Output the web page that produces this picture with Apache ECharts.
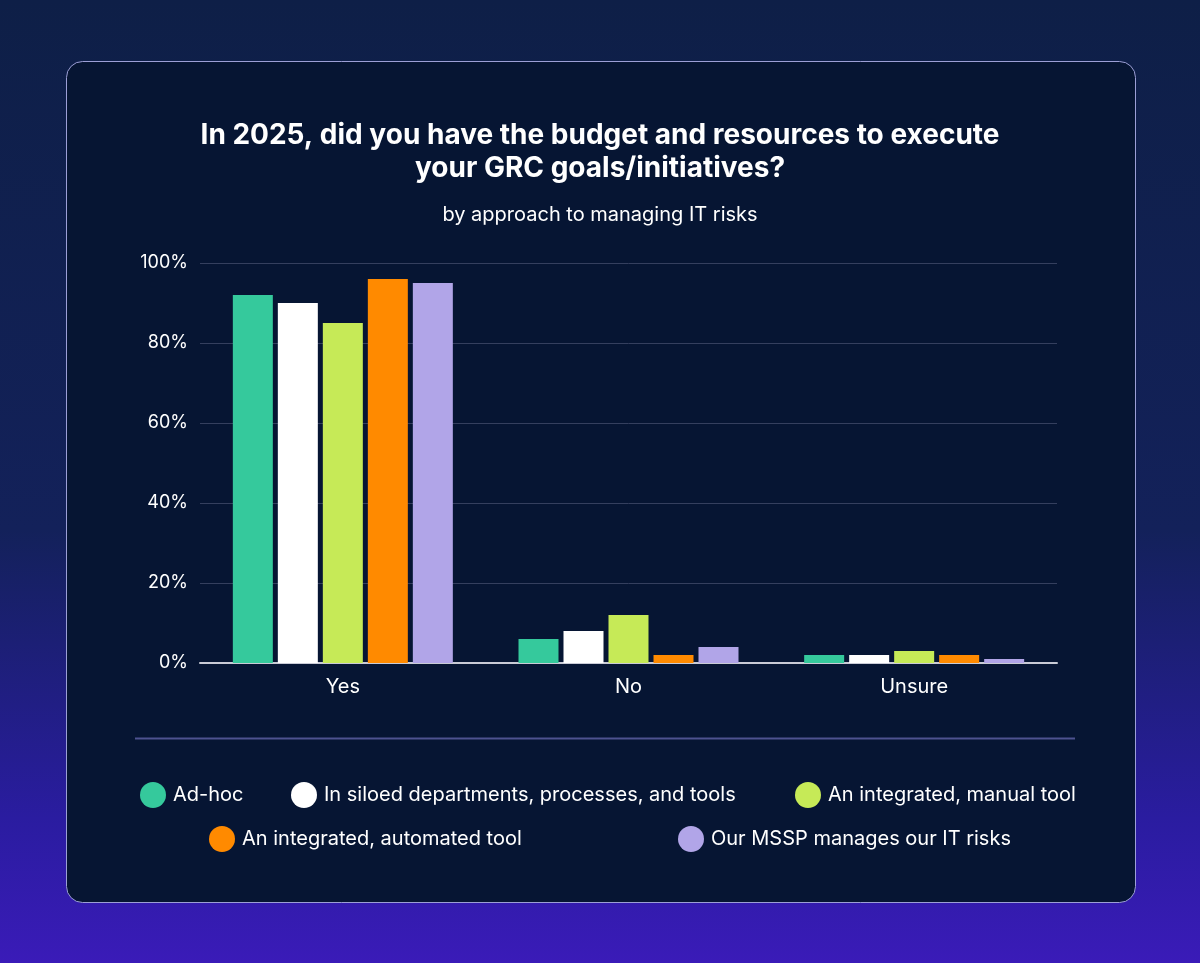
<!DOCTYPE html>
<html>
<head>
<meta charset="utf-8">
<script src="https://cdn.jsdelivr.net/npm/echarts@6/dist/echarts.min.js"></script>
<style>
  html, body { margin: 0; padding: 0; }
  body {
    width: 1200px; height: 963px; overflow: hidden;
    background: linear-gradient(180deg, #0e1f47 0%, #13215a 55%, #2a1ca0 85%, #3a1bb8 100%);
  }
  #chart { width: 1200px; height: 963px; }
</style>
</head>
<body>
<div id="chart"></div>
<script>
  // data, in percent
  var categories = ['Yes', 'No', 'Unsure'];
  var seriesNames = [
    'Ad-hoc',
    'In siloed departments, processes, and tools',
    'An integrated, manual tool',
    'An integrated, automated tool',
    'Our MSSP manages our IT risks'
  ];
  var adHoc = [92, 6, 2];
  var siloed = [90, 8, 2];
  var manualTool = [85, 12, 3];
  var automatedTool = [96, 2, 2];
  var mssp = [95, 4, 1];
  var yTicks = [0, 20, 40, 60, 80, 100];

  var colors = ['#35c99c', '#ffffff', '#c6ea57', '#ff8a00', '#b1a5e8'];
  var values = [adHoc, siloed, manualTool, automatedTool, mssp];
  var font = 'Inter, Lato, sans-serif';

  var chart = echarts.init(document.getElementById('chart'));

  var series = values.map(function (v, i) {
    return {
      name: seriesNames[i],
      type: 'bar',
      data: v,
      barWidth: 40,
      barGap: '12.5%',
      itemStyle: { color: colors[i] }
    };
  });

  // one legend per item so they sit where they do in the picture
  var legendPos = [
    { left: 135, top: 777 },
    { left: 286, top: 777 },
    { left: 790, top: 777 },
    { left: 204, top: 821 },
    { left: 673, top: 821 }
  ];
  var legends = seriesNames.map(function (n, i) {
    return {
      data: [n],
      left: legendPos[i].left,
      top: legendPos[i].top,
      icon: 'circle',
      itemWidth: 26,
      itemHeight: 26,
      itemGap: 0,
      selectedMode: false,
      textStyle: { color: '#ffffff', fontSize: 20, fontFamily: font, padding: [0, 0, 0, 2] }
    };
  });

  var option = {
    backgroundColor: 'transparent',
    animation: false,
    color: colors,
    graphic: [
      {
        type: 'rect',
        z: -10,
        shape: { x: 66.5, y: 61.5, width: 1069, height: 841, r: 16 },
        style: { fill: '#061533', stroke: '#9c9fd6', lineWidth: 1 }
      },
      {
        type: 'line',
        z: -5,
        shape: { x1: 135, y1: 738.5, x2: 1075, y2: 738.5 },
        style: { stroke: '#4d5290', lineWidth: 2 }
      }
    ],
    title: [
      {
        text: 'In 2025, did you have the budget and resources to execute\nyour GRC goals/initiatives?',
        left: 'center',
        top: 114,
        textStyle: { color: '#ffffff', fontSize: 28, fontWeight: 'bold', fontFamily: font, lineHeight: 33, align: 'center' }
      },
      {
        text: 'by approach to managing IT risks',
        left: 'center',
        top: 200,
        textStyle: { color: '#ffffff', fontSize: 20, fontWeight: 'normal', fontFamily: font }
      }
    ],
    legend: legends,
    grid: { left: 200, right: 143, top: 263, height: 400 },
    xAxis: {
      type: 'category',
      data: categories,
      axisTick: { show: false },
      axisLine: { lineStyle: { color: '#c9cbd6', width: 2 } },
      axisLabel: { color: '#ffffff', fontSize: 20, fontFamily: font, margin: 14 }
    },
    yAxis: {
      type: 'value',
      min: yTicks[0],
      max: yTicks[yTicks.length - 1],
      interval: 20,
      axisLine: { show: false },
      axisTick: { show: false },
      splitLine: { lineStyle: { color: '#343f5e', width: 1 } },
      axisLabel: {
        color: '#ffffff', fontSize: 18, fontFamily: font, margin: 12,
        formatter: function (v) { return v + '%'; }
      }
    },
    series: series
  };

  chart.setOption(option);
</script>
</body>
</html>
